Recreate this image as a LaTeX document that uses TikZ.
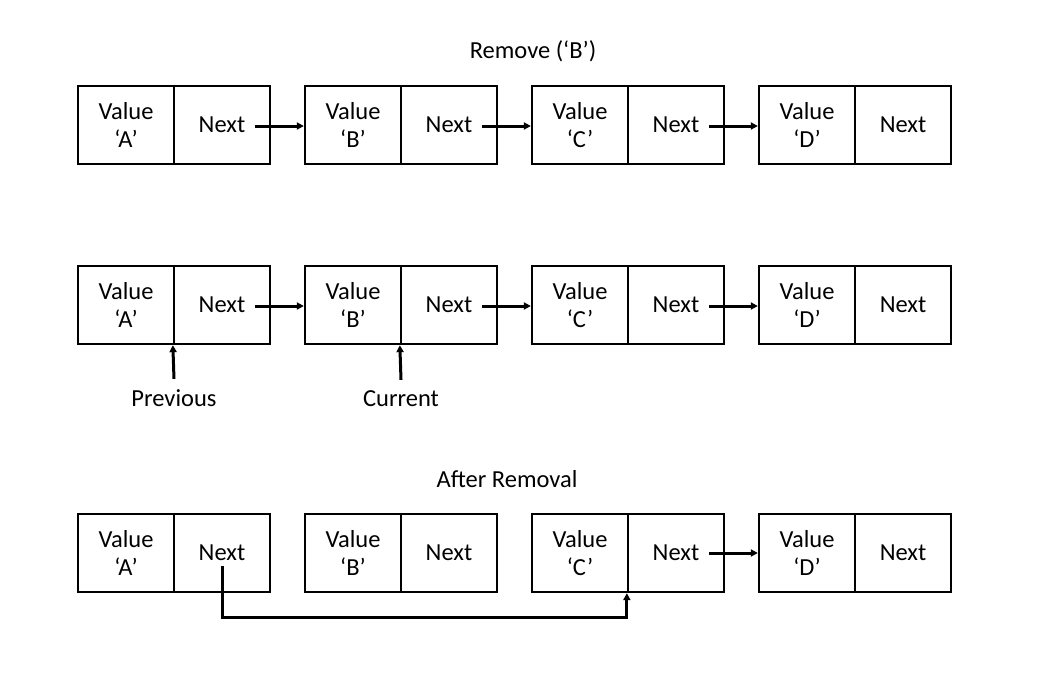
\documentclass[tikz,border=0pt]{standalone}
\usepackage{fontspec}
\setmainfont{Carlito}
\usetikzlibrary{arrows.meta}
\tikzset{
  cell/.style={draw=black, line width=2.3pt, minimum width=96pt, minimum height=78pt, inner sep=0pt, align=center, font=\fontsize{24.5}{28}\selectfont},
  lbl/.style={inner sep=0pt, anchor=base, font=\fontsize{24.5}{28}\selectfont},
  arr/.style={line width=3pt, -{Triangle[length=7pt,width=7pt]}},
}
\begin{document}
\begin{tikzpicture}[x=1pt,y=-1pt]
\useasboundingbox (0,0) rectangle (1046,673);
% titles
\node[lbl] (t1) at (533,58) {Remove (‘B’)};
\node[lbl] (t2) at (507,487) {After Removal};
% rows
\foreach \r/\y in {1/125, 2/305, 3/553}{
  \node[cell] (a\r v) at (126,\y) {Value\\‘A’};
  \node[cell] (a\r n) at (222,\y) {Next};
  \node[cell] (b\r v) at (353,\y) {Value\\‘B’};
  \node[cell] (b\r n) at (449,\y) {Next};
  \node[cell] (c\r v) at (580,\y) {Value\\‘C’};
  \node[cell] (c\r n) at (676,\y) {Next};
  \node[cell] (d\r v) at (807,\y) {Value\\‘D’};
  \node[cell] (d\r n) at (903,\y) {Next};
}
% row 1 and 2 links
\foreach \r in {1,2}{
  \draw[arr] ([xshift=33pt,yshift=-1pt]a\r n.center) -- ([yshift=-1pt]b\r v.west);
  \draw[arr] ([xshift=33pt,yshift=-1pt]b\r n.center) -- ([yshift=-1pt]c\r v.west);
  \draw[arr] ([xshift=33pt,yshift=-1pt]c\r n.center) -- ([yshift=-1pt]d\r v.west);
}
% pointers
\node[lbl] (prev) at (174,406) {Previous};
\node[lbl] (cur) at (401,406) {Current};
\draw[arr] ([yshift=10pt]prev.north) -- (a2n.south west);
\draw[arr] ([yshift=10pt]cur.north) -- (b2n.south west);
% row 3 links
\draw[arr] ([xshift=33pt]c3n.center) -- (d3v.west);
\draw[arr] ([yshift=-13pt]a3n.center) -- ++(0,51) -| (c3n.south west);
\end{tikzpicture}
\end{document}
